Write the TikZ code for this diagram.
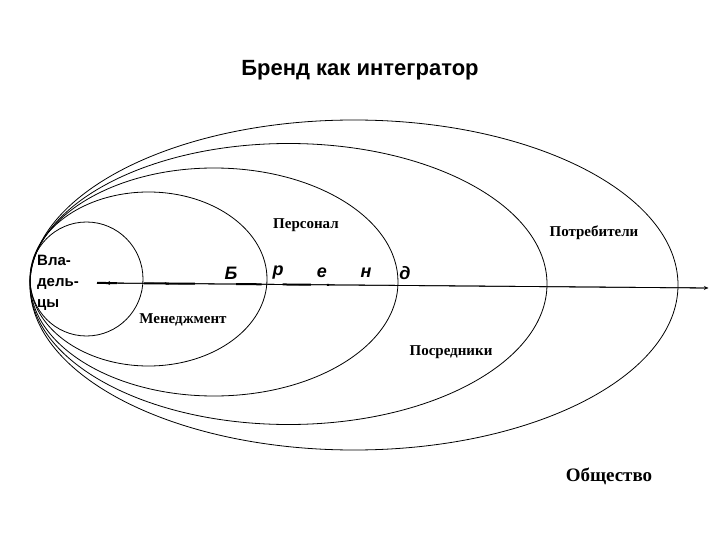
\documentclass[tikz,border=0pt]{standalone}
\usepackage{fontspec}
\setmainfont{Liberation Serif}
\newfontfamily\arial{Liberation Sans}
\begin{document}
\begin{tikzpicture}[x=1pt,y=-1pt,
  ring/.style={draw=black,line width=0.8pt},
  lbl/.style={font=\bfseries\fontsize{15}{17}\selectfont},
  brand/.style={font=\arial\bfseries\itshape\fontsize{18}{20}\selectfont}]
\useasboundingbox (0,0) rectangle (720,540);
\node[font=\arial\bfseries\fontsize{22}{26}\selectfont] (title) at (360,70) {Бренд как интегратор};
\draw[ring] (678,285) arc[start angle=0,end angle=360,x radius=324,y radius=-165];
\draw[ring] (547,284) arc[start angle=0,end angle=360,x radius=258.5,y radius=-140.5];
\draw[ring] (398,282) arc[start angle=0,end angle=360,x radius=184,y radius=-114];
\draw[ring] (267,279) arc[start angle=0,end angle=360,x radius=118.5,y radius=-87];
\draw[ring] (143,279) arc[start angle=0,end angle=360,x radius=56.5,y radius=-57];
\coordinate (L) at (106,283);
\coordinate (R) at (708,288);
\draw[line width=0.8pt,-stealth] (L) -- (R);
\draw[line width=0.8pt,-stealth] (R) -- (L);
\foreach \a/\b in {200/244,303/358,349/415,506/562,608/670,705/710}{
  \draw[line width=2pt] ({\a*0.455+6},{283+5*(\a*0.455+6-106)/602}) -- ({\b*0.455+6},{283+5*(\b*0.455+6-106)/602});}
\node[brand] (b1) at (231,273) {Б};
\node[brand] (b2) at (278,273) {р};
\node[brand] (b3) at (322,273) {е};
\node[brand] (b4) at (366,273) {н};
\node[brand] (b5) at (405,273) {д};
\node[lbl] (pers) at (306,225) {Персонал};
\node[lbl] (potr) at (594,233) {Потребители};
\node[lbl] (men) at (183,320) {Менеджмент};
\node[lbl] (posr) at (451,352) {Посредники};
\node[font=\bfseries\fontsize{19}{22}\selectfont] (obsh) at (609,476) {Общество};
\node[font=\arial\bfseries\fontsize{15}{21}\selectfont,align=left,anchor=north west,inner sep=0pt] (vlad) at (37,255) {Вла-\\дель-\\цы};
\end{tikzpicture}
\end{document}
